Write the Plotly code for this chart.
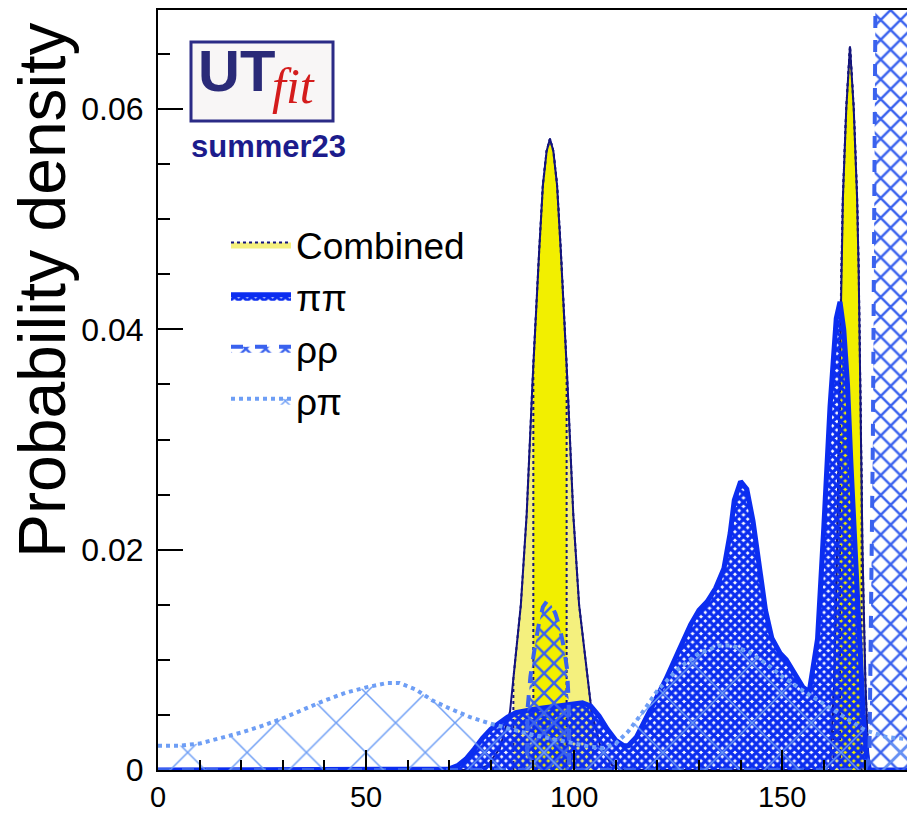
import numpy as np
import plotly.graph_objects as go

# ---------------- data ----------------
comb_x = [0, 76, 79.2, 82.2, 84.6, 87.2, 88.6, 90.0, 91.6, 92.5, 93.4, 94.2, 95.0, 95.9, 96.8,
          98.4, 99.8, 101.2, 104.2, 106.4, 109.2, 112,
          158, 161.5, 162.5, 163.2, 163.8, 164.2, 164.6, 165.4, 166.3, 167.2, 168.0, 168.4,
          168.8, 169.3, 170.0, 170.6, 171.0, 180]
comb_y = [0, 0, 0.0004, 0.0020, 0.0053, 0.0150, 0.0232, 0.0352, 0.0471, 0.0531, 0.0562, 0.0573,
          0.0562, 0.0531, 0.0471, 0.0352, 0.0232, 0.0150, 0.0053, 0.0020, 0.0004, 0,
          0, 0.0, 0.008, 0.020, 0.035, 0.045, 0.052, 0.060, 0.0657, 0.060, 0.052, 0.045,
          0.035, 0.020, 0.008, 0.002, 0, 0]
comb_68 = [(90.2, 98.2), (163.9, 169.1)]
comb_95 = [(85.4, 104.6), (162.3, 170.6)]

pipi_x = [0, 60, 70, 72, 74, 76, 78, 80, 82, 84, 86, 88, 90, 92, 94, 96, 98, 100, 102, 104,
          106, 108, 110, 112, 113, 115, 117, 120, 122, 125, 128, 130, 132, 134, 136, 137.5,
          138.5, 140, 141.5, 143, 144.7, 146, 147.5, 149.5, 151, 153, 155, 156.5, 158.5, 160,
          161.5, 163, 163.9, 164.8, 165.7, 166.5, 167.5, 168.5, 169.5, 170.3, 171, 173, 180]
pipi_y = [0, 0, 0.0001, 0.0004, 0.0010, 0.0019, 0.0029, 0.0037, 0.0043, 0.0048, 0.0052, 0.0054,
          0.0055, 0.0056, 0.0057, 0.0059, 0.0060, 0.0061, 0.0061, 0.0058, 0.0049, 0.0037, 0.0027,
          0.0022, 0.0022, 0.0030, 0.0045, 0.0065, 0.0082, 0.0107, 0.0132, 0.0145, 0.0153, 0.0165,
          0.0183, 0.0215, 0.0245, 0.0262, 0.0255, 0.0226, 0.0181, 0.0145, 0.0120, 0.0106, 0.0100,
          0.0088, 0.0075, 0.0071, 0.0119, 0.0220, 0.0330, 0.0410, 0.0425, 0.0400, 0.0350, 0.0280,
          0.0200, 0.0120, 0.0050, 0.0014, 0, 0, 0]

rhorho_x = [0, 88.7, 88.8, 89.5, 90.5, 91.5, 92.5, 93.4, 94.5, 95.5, 96.5, 97.5, 98.3, 98.7,
            98.8, 170, 171, 171.8, 172.5, 174, 180]
rhorho_y = [0, 0, 0.0055, 0.0085, 0.0110, 0.0132, 0.0148, 0.0153, 0.0150, 0.0142, 0.0130,
            0.0112, 0.0092, 0.0062, 0, 0, 0.002, 0.030, 0.075, 0.120, 0.150]

rhopi_x = [0, 5, 10, 15, 20, 25, 30, 35, 40, 45, 50, 55, 58, 62, 66, 70, 75, 80, 85, 90, 95,
           100, 104, 107, 110, 113, 116, 120, 125, 130, 135, 138, 142, 146, 150, 155, 160, 165,
           170, 175, 180]
rhopi_y = [0.0022, 0.0022, 0.0024, 0.0029, 0.0034, 0.0040, 0.0047, 0.0055, 0.0063, 0.0070,
           0.0075, 0.0079, 0.0079, 0.0073, 0.0063, 0.0056, 0.0048, 0.0042, 0.0037, 0.0032,
           0.0028, 0.0024, 0.0021, 0.0020, 0.0024, 0.0035, 0.0050, 0.0072, 0.0092, 0.0106,
           0.0113, 0.0113, 0.0107, 0.0097, 0.0085, 0.0072, 0.0060, 0.0047, 0.0036, 0.0030, 0.0028]

names = ["Combined", "ππ", "ρρ", "ρπ"]
x_ticks = [0, 50, 100, 150]
y_ticks = [0, 0.02, 0.04, 0.06]

# ---------------- styles ----------------
NAVY = "#14147c"
Y68 = "#f2ef00"
Y95 = "#f4f07e"
C_PIPI = "#0b2df0"
C_RHORHO = "#3a62ee"
C_RHOPI = "#6e9ef5"
FONT = "Liberation Sans, Arial, Helvetica, sans-serif"


def region_polygon(xs, ys, bounds):
    xs = np.asarray(xs, float)
    ys = np.asarray(ys, float)
    px, py = [], []
    for lo, hi in bounds:
        inner = (xs > lo) & (xs < hi)
        px += [lo, lo] + list(xs[inner]) + [hi, hi, None]
        py += [0, float(np.interp(lo, xs, ys))] + list(ys[inner]) + \
              [float(np.interp(hi, xs, ys)), 0, None]
    return px, py


fig = go.Figure()

p95x, p95y = region_polygon(comb_x, comb_y, comb_95)
fig.add_trace(go.Scatter(x=p95x, y=p95y, mode="lines", fill="toself", fillcolor=Y95,
                         line=dict(color=NAVY, width=2, dash="dot"),
                         name=names[0], legendgroup="a", hoverinfo="skip"))
p68x, p68y = region_polygon(comb_x, comb_y, comb_68)
fig.add_trace(go.Scatter(x=p68x, y=p68y, mode="lines", fill="toself", fillcolor=Y68,
                         line=dict(color=NAVY, width=2, dash="dot"),
                         showlegend=False, hoverinfo="skip"))
fig.add_trace(go.Scatter(x=comb_x, y=comb_y, mode="lines",
                         line=dict(color=NAVY, width=2),
                         showlegend=False, hoverinfo="skip"))

fig.add_trace(go.Scatter(x=pipi_x, y=pipi_y, mode="lines", fill="tozeroy",
                         fillcolor="rgba(0,0,0,0)",
                         fillpattern=dict(shape="x", size=6, solidity=0.8, fgcolor=C_PIPI,
                                          bgcolor="rgba(0,0,0,0)", fillmode="replace"),
                         line=dict(color=C_PIPI, width=5),
                         name=names[1], legendgroup="b", hoverinfo="skip"))
fig.add_trace(go.Scatter(x=rhorho_x, y=rhorho_y, mode="lines", fill="tozeroy",
                         fillcolor="rgba(0,0,0,0)",
                         fillpattern=dict(shape="x", size=14, solidity=0.32, fgcolor=C_RHORHO,
                                          bgcolor="rgba(0,0,0,0)", fillmode="replace"),
                         line=dict(color=C_RHORHO, width=4, dash="dash"),
                         name=names[2], legendgroup="c", hoverinfo="skip"))
fig.add_trace(go.Scatter(x=rhopi_x, y=rhopi_y, mode="lines", fill="tozeroy",
                         fillcolor="rgba(0,0,0,0)",
                         fillpattern=dict(shape="x", size=42, solidity=0.07, fgcolor=C_RHOPI,
                                          bgcolor="rgba(0,0,0,0)", fillmode="replace"),
                         line=dict(color=C_RHOPI, width=4, dash="dot"),
                         name=names[3], legendgroup="d", hoverinfo="skip"))

# ---------------- layout ----------------
W, H = 907, 815
L, R, T, B = 158, 0, 10, 45
pw, ph = W - L - R, H - T - B


def px2paper(px, py):
    return (px - L) / pw, (H - B - py) / ph


fig.update_layout(
    width=W, height=H,
    margin=dict(l=L, r=R, t=T, b=B, pad=0, autoexpand=False),
    paper_bgcolor="white", plot_bgcolor="white",
    font=dict(family=FONT, color="black"),
    showlegend=True,
    legend=dict(x=px2paper(226, 0)[0], y=px2paper(0, 214)[1], xanchor="left", yanchor="top",
                bgcolor="rgba(0,0,0,0)", borderwidth=0, traceorder="grouped",
                tracegroupgap=1, itemwidth=60,
                font=dict(size=37, family=FONT, color="black")),
)

fig.update_xaxes(range=[0, 180], tickvals=x_ticks, ticktext=[str(v) for v in x_ticks],
                 ticks="inside", ticklen=20, tickwidth=2, tickcolor="black",
                 showline=True, linewidth=2, linecolor="black", mirror=True,
                 showgrid=False, zeroline=False, ticklabelstandoff=0, automargin=False,
                 tickfont=dict(size=29, family=FONT, color="black"),
                 minor=dict(dtick=10, tick0=0, ticks="inside", ticklen=10, tickwidth=2,
                            tickcolor="black", showgrid=False))
fig.update_yaxes(range=[0, 0.069], tickvals=y_ticks, ticktext=["0", "0.02", "0.04", "0.06"],
                 ticks="inside", ticklen=25, tickwidth=2, tickcolor="black",
                 showline=True, linewidth=2, linecolor="black", mirror=False,
                 showgrid=False, zeroline=False, ticklabelstandoff=6, automargin=False,
                 tickfont=dict(size=32, family=FONT, color="black"),
                 minor=dict(dtick=0.005, tick0=0, ticks="inside", ticklen=12, tickwidth=2,
                            tickcolor="black", showgrid=False))

# y-axis title (top-aligned, as in the reference)
tx, ty = px2paper(42, 290)
fig.add_annotation(x=tx, y=ty, xref="paper", yref="paper", text="Probability density",
                   textangle=-90, showarrow=False, xanchor="center", yanchor="middle",
                   font=dict(size=66, family=FONT, color="black"))

# UTfit logo
bx0, by0 = px2paper(191, 121)
bx1, by1 = px2paper(333, 42)
fig.add_shape(type="rect", xref="paper", yref="paper", x0=bx0, y0=by0, x1=bx1, y1=by1,
              line=dict(color="#2b2b86", width=3), fillcolor="#f8f6f6", layer="above")
ux, uy = px2paper(236, 71)
fig.add_annotation(x=ux, y=uy, xref="paper", yref="paper", text="<b>UT</b>", showarrow=False,
                   xanchor="center", yanchor="middle",
                   font=dict(size=58, family=FONT, color="#2a2a78"))
fx, fy = px2paper(293, 86)
fig.add_annotation(x=fx, y=fy, xref="paper", yref="paper", text="<i>fit</i>", showarrow=False,
                   xanchor="center", yanchor="middle",
                   font=dict(size=50, family="Liberation Serif, Times New Roman, serif",
                             color="#d41c1c"))
sx, sy = px2paper(268, 147)
fig.add_annotation(x=sx, y=sy, xref="paper", yref="paper", text="<b>summer23</b>",
                   showarrow=False, xanchor="center", yanchor="middle",
                   font=dict(size=31, family=FONT, color="#1c1c8c"))

fig.write_html("out.html")
